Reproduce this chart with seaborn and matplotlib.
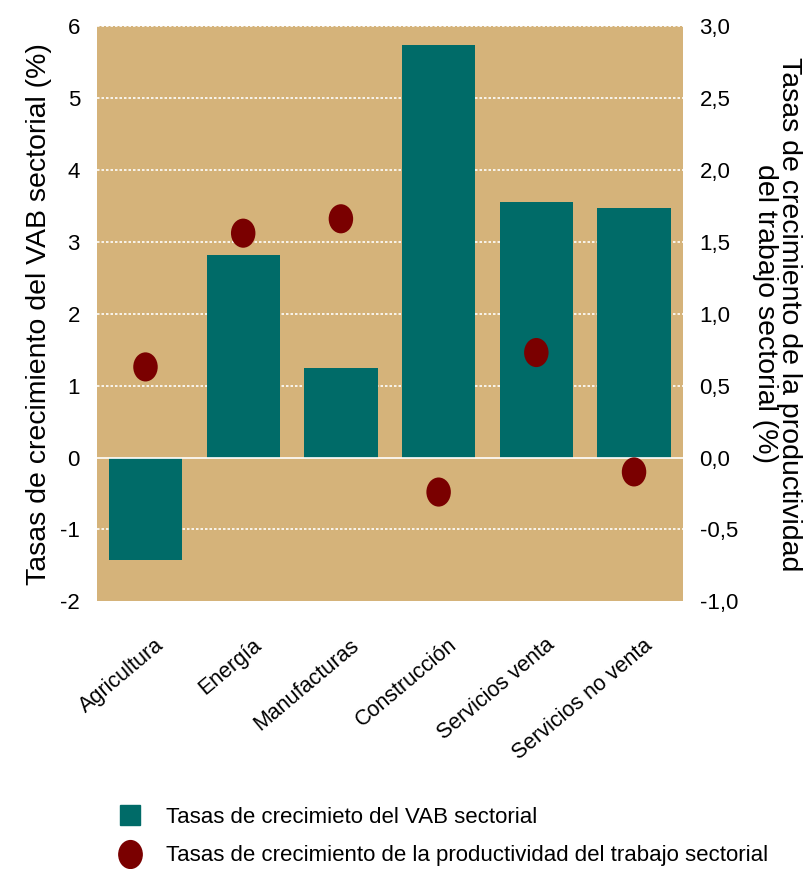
import numpy as np
import pandas as pd
import matplotlib
matplotlib.use("Agg")
import matplotlib.pyplot as plt
from matplotlib.lines import Line2D
from matplotlib.path import Path
from matplotlib.transforms import ScaledTranslation
from matplotlib import font_manager
import seaborn as sns

# Data
sectores = ["Agricultura", "Energía", "Manufacturas", "Construcción",
            "Servicios venta", "Servicios no venta"]
vab = [-1.42, 2.81, 1.25, 5.73, 3.55, 3.47]
productividad = [0.63, 1.56, 1.66, -0.24, 0.73, -0.10]

left_ticks = [-2, -1, 0, 1, 2, 3, 4, 5, 6]
right_ticks = [-1.0, -0.5, 0.0, 0.5, 1.0, 1.5, 2.0, 2.5, 3.0]

bar_color = "#006B68"
dot_color = "#7A0000"
bg_color = "#D5B37A"

sns.set_style("white")
plt.rcParams["font.family"] = ["Liberation Sans", "DejaVu Sans"]
plt.rcParams["text.color"] = "black"
plt.rcParams["axes.labelcolor"] = "black"
plt.rcParams["xtick.color"] = "black"
plt.rcParams["ytick.color"] = "black"

# legend text in the reference is condensed
names = {f.name for f in font_manager.fontManager.ttflist}
if "Liberation Sans Narrow" in names:
    legend_font = {"family": "Liberation Sans Narrow", "size": 18}
else:
    legend_font = {"family": "Liberation Sans", "size": 16}

# oval marker (slightly taller than wide)
circ = Path.unit_circle()
oval = Path(circ.vertices * np.array([0.84, 1.0]), circ.codes)

df = pd.DataFrame({"sector": sectores, "vab": vab, "prod": productividad})

fig = plt.figure(figsize=(8.12, 8.69), dpi=100)
ax = fig.add_axes([0.119, 0.308, 0.722, 0.662])
ax.set_facecolor(bg_color)

# gridlines (white dotted, solid at zero)
for t in left_ticks[1:]:
    if t != 0:
        ax.axhline(t, color="white", lw=1.2, ls=(0, (1.5, 1.2)), zorder=0.5)

sns.barplot(data=df, x="sector", y="vab", color=bar_color, saturation=1,
            width=0.75, linewidth=0, ax=ax, zorder=2)
ax.axhline(0, color="white", lw=1.2, zorder=2.5)
ax.set_ylim(-2, 6)
ax.set_yticks(left_ticks)
ax.set_yticklabels([str(t) for t in left_ticks], fontsize=16)
ax.set_xlim(-0.5, len(sectores) - 0.5)
ax.set_xlabel("")
ax.set_ylabel("Tasas de crecimiento del VAB sectorial (%)", fontsize=20.5, labelpad=6)
ax.set_xticks(range(len(sectores)))
ax.set_xticklabels(sectores, rotation=40, ha="right", rotation_mode="anchor",
                   fontsize=15.5)
ax.tick_params(axis="both", length=0, pad=12)
ax.tick_params(axis="x", pad=24)
# nudge the rotated labels to the right, as in the original
offset = ScaledTranslation(9 / 100, 0, fig.dpi_scale_trans)
for lab in ax.get_xticklabels():
    lab.set_transform(lab.get_transform() + offset)

ax2 = ax.twinx()
sns.scatterplot(x=np.arange(len(sectores)), y=productividad, ax=ax2,
                color=dot_color, s=440, marker=oval, edgecolor="none", zorder=3)
ax2.set_ylim(-1.0, 3.0)
ax2.set_yticks(right_ticks)
ax2.set_yticklabels([f"{t:.1f}".replace(".", ",") for t in right_ticks], fontsize=16)
ax2.tick_params(axis="y", length=0, pad=12)
ax2.set_ylabel("Tasas de crecimiento de la productividad\ndel trabajo sectorial (%)",
               fontsize=20.5, rotation=270, labelpad=46, linespacing=0.88)

for a in (ax, ax2):
    for s in a.spines.values():
        s.set_visible(False)

handles = [
    Line2D([], [], marker="s", ls="none", color=bar_color, markersize=15),
    Line2D([], [], marker=oval, ls="none", color=dot_color, markersize=20),
]
labels = ["Tasas de crecimieto del VAB sectorial",
          "Tasas de crecimiento de la productividad del trabajo sectorial"]
fig.legend(handles, labels, loc="lower left", bbox_to_anchor=(0.113, -0.02),
           frameon=False, prop=legend_font, handletextpad=0.85, labelspacing=0.8,
           handlelength=1.6)

fig.savefig("out.png", dpi=100)
